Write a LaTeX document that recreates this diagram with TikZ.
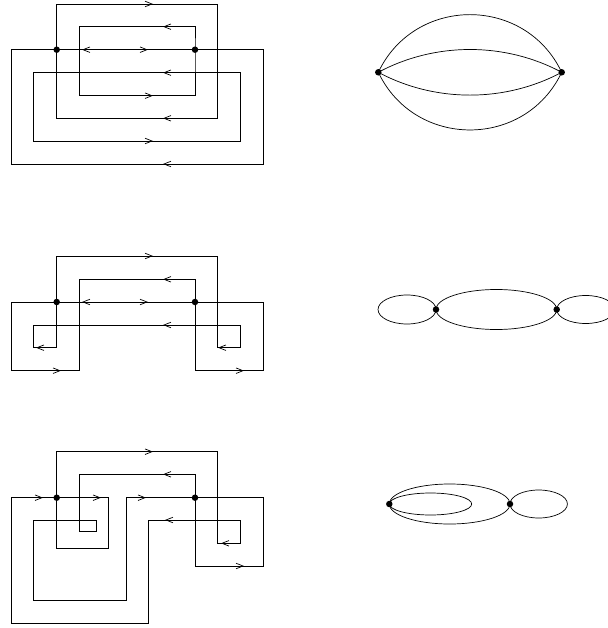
\documentclass[tikz,border=0pt]{standalone}
\usetikzlibrary{arrows.meta,calc}
\tikzset{
  ln/.style={line width=0.7pt, line join=miter},
  dot/.style={circle, fill=black, inner sep=0pt, minimum size=6.5pt},
  arr/.style={line width=0.7pt, -{Straight Barb[length=7pt,width=5.5pt]}},
}
\newcommand\ra[2]{\draw[arr] (#1-12,#2) -- (#1,#2);}
\newcommand\la[2]{\draw[arr] (#1+12,#2) -- (#1,#2);}
\begin{document}
\begin{tikzpicture}[x=1pt,y=-1pt]
\useasboundingbox (0,0) rectangle (607,628);
% x levels
\def\xa{11}\def\xb{33.3}\def\xc{56.7}\def\xd{79.3}
\def\xe{195}\def\xf{217.7}\def\xg{240.7}\def\xh{263.3}
% ---------------- Diagram 1 ----------------
\node[dot] (L1) at (\xc,49.7) {};
\node[dot] (R1) at (\xe,49.7) {};
\draw[ln] (L1.center) -- (\xc,4) -- (\xf,4) -- (\xf,118.3) -- (\xc,118.3) -- cycle;
\draw[ln] (R1.center) -- (\xe,26.7) -- (\xd,26.7) -- (\xd,95.7) -- (\xe,95.7) -- cycle;
\draw[ln] (L1.center) -- (\xa,49.7) -- (\xa,164) -- (\xh,164) -- (\xh,49.7) -- (R1.center);
\draw[ln] (L1.center) -- (R1.center);
\draw[ln] (\xb,72.7) rectangle (\xg,141);
\ra{153}{4} \ra{153}{95.7} \ra{153}{141} \ra{148}{49.7}
\la{163}{26.7} \la{163}{72.7} \la{163}{118.3} \la{163}{164} \la{82}{49.7}
% ---------------- Diagram 2 ----------------
\node[dot] (L2) at (\xc,302) {};
\node[dot] (R2) at (\xe,302) {};
\draw[ln] (L2.center) -- (\xc,256) -- (\xf,256) -- (\xf,347.7) -- (\xg,347.7) -- (\xg,325)
  -- (\xb,325) -- (\xb,347.7) -- (\xc,347.7) -- cycle;
\draw[ln] (R2.center) -- (\xe,279.3) -- (\xd,279.3) -- (\xd,370.7) -- (\xa,370.7) -- (\xa,302) -- (L2.center);
\draw[ln] (R2.center) -- (\xh,302) -- (\xh,370.7) -- (\xe,370.7) -- cycle;
\draw[ln] (L2.center) -- (R2.center);
\ra{153}{256} \la{163}{279.3} \la{82}{302} \ra{148}{302} \la{163}{325}
\la{36}{347.7} \la{218}{347.7} \ra{61}{370.7} \ra{244}{370.7}
% ---------------- Diagram 3 ----------------
\node[dot] (L3) at (\xc,497.7) {};
\node[dot] (R3) at (\xe,497.7) {};
\draw[ln] (L3.center) -- (\xc,451.7) -- (\xf,451.7) -- (\xf,543.3) -- (\xg,543.3) -- (\xg,520)
  -- (148.3,520) -- (148.3,623.3) -- (\xa,623.3) -- (\xa,497.7) -- cycle;
\draw[ln] (R3.center) -- (\xe,474.3) -- (\xd,474.3) -- (\xd,531.7) -- (96.7,531.7) -- (96.7,520)
  -- (\xb,520) -- (\xb,600.7) -- (126,600.7) -- (126,497.7) -- cycle;
\draw[ln] (L3.center) -- (108.3,497.7) -- (108.3,548.3) -- (\xc,548.3) -- cycle;
\draw[ln] (R3.center) -- (\xh,497.7) -- (\xh,566) -- (\xe,566) -- cycle;
\ra{153}{451.7} \la{163}{474.3} \ra{43}{497.7} \ra{101}{497.7} \ra{146}{497.7}
\la{165}{520} \la{221}{543.3} \ra{244}{566}
% ---------------- Right: graph 1 ----------------
\node[dot] (A) at (378.3,72.3) {};
\node[dot] (B) at (561.7,72.3) {};
\draw[ln] (A.center) to[bend left=64.6, looseness=1.19] (B.center);
\draw[ln] (A.center) to[bend left=28.2, looseness=0.9] (B.center);
\draw[ln] (A.center) to[bend right=28.2, looseness=0.9] (B.center);
\draw[ln] (A.center) to[bend right=64.6, looseness=1.19] (B.center);
% ---------------- Right: graph 2 ----------------
\node[dot] (C) at (436,309.5) {};
\node[dot] (D) at (556.7,309.5) {};
\draw[ln] ($(C)!0.5!(D)$) ellipse [x radius=60.35pt, y radius=20pt];
\draw[ln] ($(C)+(-29,0)$) ellipse [x radius=29pt, y radius=14.5pt];
\draw[ln] ($(D)+(29,0)$) ellipse [x radius=29pt, y radius=14pt];
% ---------------- Right: graph 3 ----------------
\node[dot] (E) at (389.3,504) {};
\node[dot] (F) at (510,504) {};
\draw[ln] ($(E)!0.5!(F)$) ellipse [x radius=60.35pt, y radius=20pt];
\draw[ln] ($(E)+(41.2,0)$) ellipse [x radius=41.2pt, y radius=11pt];
\draw[ln] ($(F)+(28.7,0)$) ellipse [x radius=28.7pt, y radius=14pt];
\end{tikzpicture}
\end{document}
